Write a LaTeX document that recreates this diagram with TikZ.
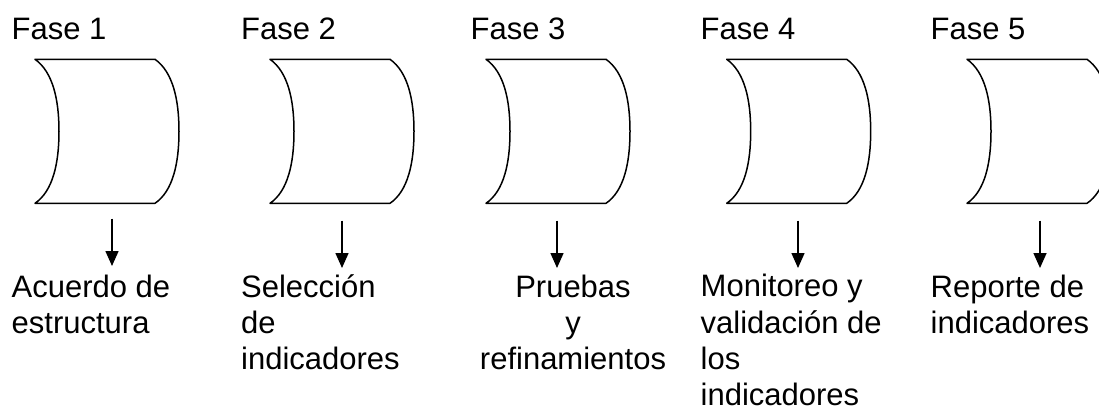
\documentclass[tikz,border=0pt]{standalone}
\usepackage{fontspec}
\setmainfont{Liberation Sans}
\usetikzlibrary{arrows.meta}
\newcommand\drumpath[2]{%
  \draw[drum] (#1,59.3) -- (#1+120,59.3)
    .. controls (#1+138,72) and (#1+144,100) .. (#1+144,131.3)
    .. controls (#1+144,163) and (#1+138,191) .. (#1+120,203.3)
    -- (#1,203.3)
    .. controls (#1+18,191) and (#1+24,163) .. (#1+24,131.3)
    .. controls (#1+24,100) and (#1+18,72) .. cycle;
  \coordinate (#2) at (#1+60,131.3);}
\begin{document}
\begin{tikzpicture}[x=1pt,y=-1pt,
  drum/.style={draw=black,line width=1.5pt,line join=round},
  flow/.style={draw=black,line width=1.5pt,-{Triangle[width=13pt,length=15pt]}},
  phase/.style={anchor=base west,inner sep=0pt,font=\fontsize{31}{36.3}\selectfont},
  result/.style={inner sep=0pt,font=\fontsize{31}{36.3}\selectfont}]
\useasboundingbox (0,0) rectangle (1099,408);

% phase titles
\node[phase] (f1) at (11.5,39.3) {Fase 1};
\node[phase] (f2) at (241,39.3) {Fase 2};
\node[phase] (f3) at (470.5,39.3) {Fase 3};
\node[phase] (f4) at (700.5,39.3) {Fase 4};
\node[phase] (f5) at (930.5,39.3) {Fase 5};

% shapes
\drumpath{35}{d1}
\drumpath{270}{d2}
\drumpath{486}{d3}
\drumpath{726.7}{d4}
\drumpath{967}{d5}

% results (base anchor = baseline of the last line)
\node[result,anchor=base west,align=left] (r1) at (11.5,333.6) {Acuerdo de\\estructura};
\node[result,anchor=base west,align=left] (r2) at (241,369.9) {Selección\\de\\indicadores};
\node[result,anchor=base,align=center] (r3) at (573,369.9) {Pruebas\\y\\refinamientos};
\node[result,anchor=base west,align=left] (r4) at (700.5,405.6) {Monitoreo y\\validación de\\los\\indicadores};
\node[result,anchor=base west,align=left] (r5) at (930.5,333.6) {Reporte de\\indicadores};

% arrows
\coordinate (s1) at (112,218.5);  \coordinate (e1) at (112,266);
\coordinate (s2) at (342,220.5);  \coordinate (e2) at (342,268);
\coordinate (s3) at (557,220.5);  \coordinate (e3) at (557,268);
\coordinate (s4) at (798,220.5);  \coordinate (e4) at (798,268);
\coordinate (s5) at (1040,220.5); \coordinate (e5) at (1040,268);
\foreach \i in {1,...,5} {\draw[flow] (s\i) -- (e\i);}
\end{tikzpicture}
\end{document}
